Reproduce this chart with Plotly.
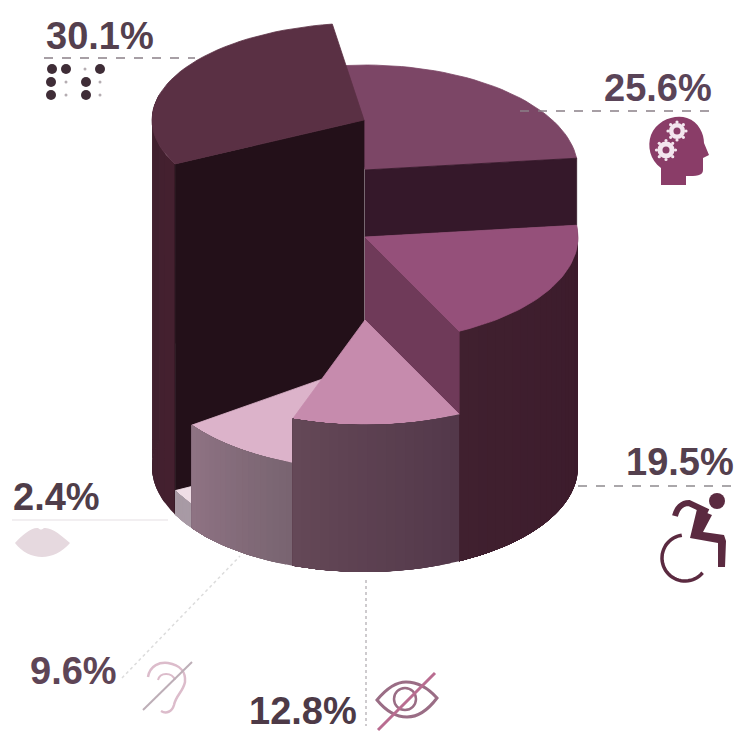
import math
import plotly.graph_objects as go

# ---- data (clockwise order, starting at the 25.6% slice)
labels = ["25.6%", "19.5%", "12.8%", "9.6%", "2.4%", "30.1%"]
values = [25.6, 19.5, 12.8, 9.6, 2.4, 30.1]
step_heights = [297, 230, 147, 103, 24, 347]

# ---- geometry / style
W, H = 739, 733
CX, BASE_Y, RX, RY = 365, 467, 213, 105
START_DEG = -8.6
top_colors = ["#7c4666", "#95507a", "#c68bad", "#dcb3ca", "#efdde6", "#5a3044"]
wall_from = ["#35182a", "#40202f", "#644857", "#8f7384", "#a89aa5", "#44202f"]
wall_to = ["#35182a", "#3b1a2b", "#53384a", "#786470", "#a89aa5", "#40202e"]
radial_colors = {1: "#6f3a59"}

total = sum(values)
angles = []
a = START_DEG
for v in values:
    angles.append((a, a + v / total * 360))
    a += v / total * 360


def pt(deg, cx, cy, rx=RX, ry=RY):
    r = math.radians(deg)
    return cx + rx * math.sin(r), cy - ry * math.cos(r)


def arc(d0, d1, cx, cy, rx=RX, ry=RY, n=40):
    return [pt(d0 + (d1 - d0) * i / n, cx, cy, rx, ry) for i in range(n + 1)]


def mix(c0, c1, t):
    a0 = [int(c0[i:i + 2], 16) for i in (1, 3, 5)]
    a1 = [int(c1[i:i + 2], 16) for i in (1, 3, 5)]
    return "#%02x%02x%02x" % tuple(round(p + (q - p) * t) for p, q in zip(a0, a1))


fig = go.Figure()


def poly(points, color, lw=0.8):
    xs = [p[0] for p in points] + [points[0][0]]
    ys = [p[1] for p in points] + [points[0][1]]
    fig.add_trace(go.Scatter(x=xs, y=ys, mode="lines", fill="toself", fillcolor=color,
                             line=dict(color=color, width=lw), hoverinfo="skip",
                             showlegend=False))


def outer_wall(d0, d1, top_c, top_ry, top_rx, top_cx, c0, c1, n=24):
    # painter's gradient: every band reaches to the far end, the next one covers it
    for i in range(n):
        a0 = d0 + (d1 - d0) * i / n
        poly(arc(a0, d1, top_cx, top_c, top_rx, top_ry, 30) + arc(d1, a0, CX, BASE_Y, RX, RY, 30),
             mix(c0, c1, (i + 0.5) / n), lw=0)


def top_y(i):
    return BASE_Y - step_heights[i]


# slice 25.6
i = 0
d0, d1 = angles[i]
poly([(CX, top_y(i))] + arc(d0, d1, CX, top_y(i)), top_colors[i])
p0 = pt(d1, CX, top_y(i))
p1 = pt(d1, CX, top_y(1))
poly([(CX, top_y(i)), p0, p1, (CX, top_y(1))], wall_from[i])

# slice 19.5
i = 1
d0, d1 = angles[i]
outer_wall(d0, d1, top_y(i), RY, RX, CX, wall_to[i], wall_from[i])
p0 = pt(d1, CX, top_y(i))
p1 = pt(d1, CX, top_y(2))
poly([(CX, top_y(i)), p0, p1, (CX, top_y(2))], radial_colors[1])
poly([(CX, top_y(i))] + arc(d0, d1, CX, top_y(i)), top_colors[i])

# exploded slice 30.1
i = 5
d0, d1 = angles[i]
ex_cx, ex_cy, ex_rx, ex_ry = CX - 1, top_y(i), 212, 97
outer_wall(d0, 285, ex_cy, ex_ry, ex_rx, ex_cx, wall_from[i], wall_to[i], 6)
inner = pt(d0, ex_cx, ex_cy, ex_rx, ex_ry)
poly([inner, (ex_cx, ex_cy), (ex_cx, BASE_Y), pt(d0, CX, BASE_Y)], "#231019")
poly([(ex_cx, ex_cy)] + arc(d0, d1, ex_cx, ex_cy, ex_rx, ex_ry), top_colors[i])

# slices 2.4, 9.6, 12.8 from the back to the front
for i in (4, 3, 2):
    d0, d1 = angles[i]
    poly([(CX, top_y(i))] + arc(d0, d1, CX, top_y(i)), top_colors[i])
    outer_wall(d0, d1, top_y(i), RY, RX, CX, wall_to[i], wall_from[i], 18)

# ---- leader lines
leaders = [
    ((44, 195), (58, 58), "#8a8088", 1.3, "dash"),
    ((520, 712), (111, 111), "#8a8088", 1.3, "dash"),
    ((578, 735), (486, 486), "#8f8a8e", 1.3, "dash"),
    ((12, 168), (520, 520), "#e6dfe3", 1.2, "solid"),
    ((122, 240), (678, 556), "#dcdcdc", 1.5, "dot"),
    ((366, 366), (580, 726), "#b4b0b4", 1.3, "dot"),
]
for xs, ys, c, w, d in leaders:
    fig.add_trace(go.Scatter(x=xs, y=ys, mode="lines", line=dict(color=c, width=w, dash=d),
                             hoverinfo="skip", showlegend=False))

# ---- braille icon
fig.add_trace(go.Scatter(x=[52, 66, 100, 51, 86, 51, 86], y=[69, 69, 69, 82, 82, 95, 95],
                         mode="markers", marker=dict(size=10, color="#3f2d37"),
                         hoverinfo="skip", showlegend=False))
fig.add_trace(go.Scatter(x=[85, 66, 100, 66, 100], y=[69, 82, 82, 95, 95], mode="markers",
                         marker=dict(size=3, color="#b5adb2"), hoverinfo="skip", showlegend=False))

shapes = []


def path(d, fill=None, line=None, width=0):
    s = dict(type="path", path=d, xref="x", yref="y", layer="above",
             line=dict(color=line or "rgba(0,0,0,0)", width=width))
    if fill:
        s["fillcolor"] = fill
    shapes.append(s)


def circle(cx, cy, r, fill=None, line=None, width=0):
    shapes.append(dict(type="circle", xref="x", yref="y", x0=cx - r, x1=cx + r, y0=cy - r, y1=cy + r,
                       fillcolor=fill or "rgba(0,0,0,0)", layer="above",
                       line=dict(color=line or "rgba(0,0,0,0)", width=width)))


# head with gears
path("M661,185 L661,168 C650,160 647,146 651,135 C657,120 675,114 687,118 "
     "C699,122 704,134 704,143 L709,155 L703,158 L703,170 C703,176 696,176 686,176 L686,185 Z",
     fill="#8a3d68")
for gx, gy, r in [(677, 131, 8), (666, 150, 8.5)]:
    circle(gx, gy, r, fill="#f3e6ee")
    for k in range(8):
        t = math.radians(k * 45)
        circle(gx + (r + 1) * math.cos(t), gy + (r + 1) * math.sin(t), 1.6, fill="#f3e6ee")
    circle(gx, gy, 3.5, fill="#8a3d68")

# wheelchair
circle(717, 501, 8, fill="#5b2a40")
path("M675,516 C677,508 682,503 689,503 L708,512", line="#5b2a40", width=6)
path("M697,509 L712,515 L703,532 L724,535 L726,541 L725,567 L718,567 L718,543 L690,538 Z",
     fill="#5b2a40")
wheel = [pt(d, 685, 558, 23, 23) for d in range(-8, -236, -6)]
path("M" + " L".join(f"{x:.1f},{y:.1f}" for x, y in wheel), line="#5b2a40", width=3.5)

# lips
path("M15,543 C22,535 32,527 38,528 C41,530 41,530 44,528 C52,527 62,536 70,543 "
     "C62,552 52,557 42,557 C32,557 22,552 15,543 Z", fill="#e6d9df")

# ear
path("M148,677 C150,665 160,662 168,663 C180,665 186,672 185,682 C183,692 176,695 174,705 "
     "C172,712 166,714 161,711", line="#dcbccb", width=2.5)
path("M158,680 C160,672 172,672 175,680", line="#dcbccb", width=2)
path("M143,710 L192,662", line="#bdaeb7", width=2)

# eye
path("M377,700 C387,688 397,682 406,682 C417,682 428,688 437,698 C428,710 417,717 407,717 "
     "C396,717 386,711 377,700 Z", line="#9a6d85", width=3)
circle(405, 699, 11, line="#9a6d85", width=2.5)
path("M378,730 L435,673", line="#b96c90", width=3)

text_colors = ["#5a4458", "#54404e", "#4d3a47", "#5e4556", "#4f3d49", "#54404e"]
text_pos = [(658, 88), (680, 462), (303, 711), (73, 671), (56, 497), (100, 36)]
annotations = [dict(x=p[0], y=p[1], text=t, showarrow=False, xref="x", yref="y",
                    xanchor="center", yanchor="middle",
                    font=dict(family="Liberation Sans", size=38, color=c, weight=700))
               for t, p, c in zip(labels, text_pos, text_colors)]

fig.update_layout(
    width=W, height=H, margin=dict(l=0, r=0, t=0, b=0), autosize=False,
    paper_bgcolor="white", plot_bgcolor="white", showlegend=False,
    xaxis=dict(range=[0, W], visible=False, fixedrange=True),
    yaxis=dict(range=[H, 0], visible=False, fixedrange=True),
    shapes=shapes, annotations=annotations,
)
fig.write_html("out.html", config=dict(displayModeBar=False),
               post_script="document.body.style.margin='0';document.body.style.overflow='hidden';")
